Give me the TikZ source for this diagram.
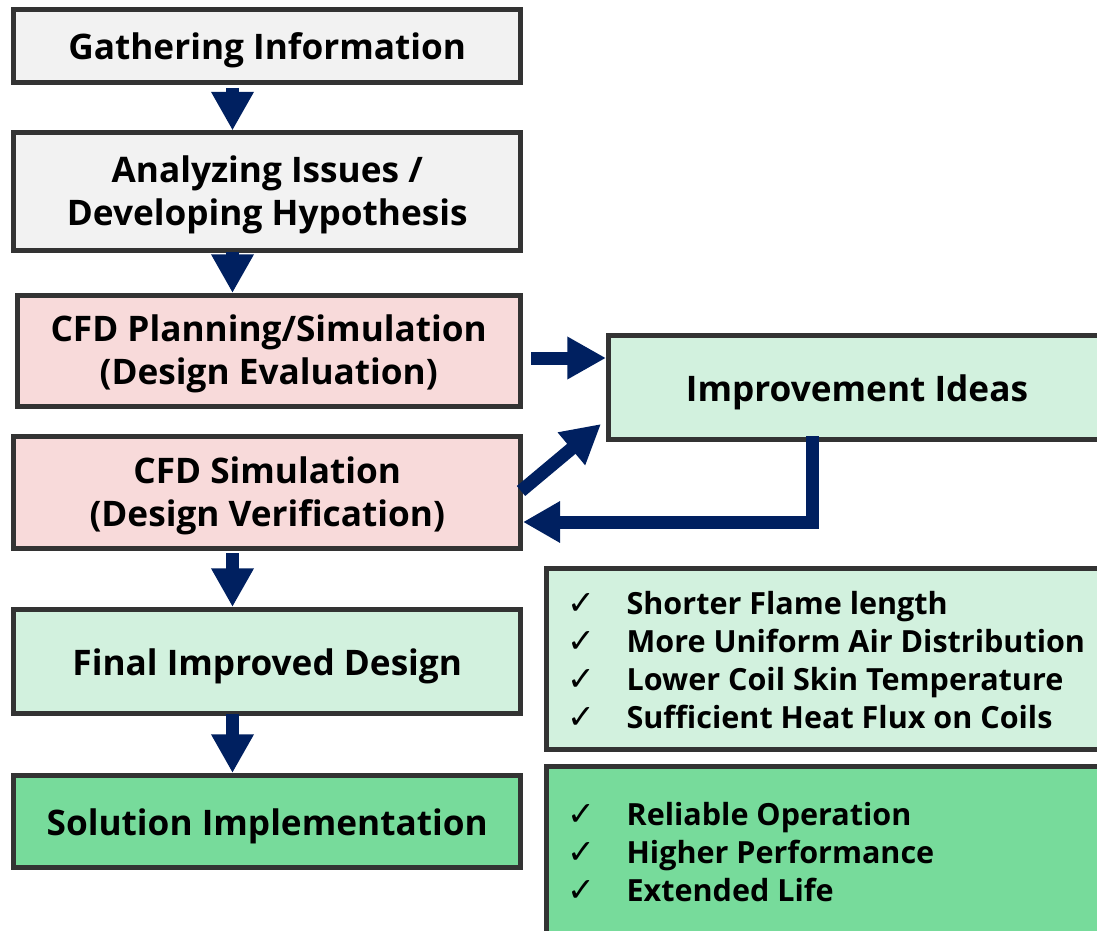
\documentclass[tikz,border=0pt]{standalone}
\usepackage{fontspec}
\setmainfont{Open Sans}
\newfontfamily\symfont{DejaVu Sans}
\usetikzlibrary{arrows.meta,calc}
\definecolor{bordc}{HTML}{333333}
\definecolor{navy}{HTML}{002060}
\definecolor{greyf}{HTML}{F2F2F2}
\definecolor{pinkf}{HTML}{F8DADA}
\definecolor{lgreen}{HTML}{D2F1DE}
\definecolor{dgreen}{HTML}{77DB9B}
\begin{document}
\begin{tikzpicture}[x=0.75pt,y=-0.75pt,
  box/.style={draw=bordc, line width=3.75pt, inner sep=0pt, align=center,
    font=\bfseries\fontsize{26.4}{32.25}\selectfont},
  sline/.style={text height=20.5pt, text depth=0pt},
  dline/.style={text height=50.25pt, text depth=0pt},
  listtxt/.style={inner sep=0pt, align=left, anchor=west,
    font=\bfseries\fontsize{22.9}{28.5}\selectfont},
  barrow/.style={draw=navy, line width=9.75pt, line join=miter,
    -{Triangle[length=29pt,width=30pt]}}]
\useasboundingbox (0,0) rectangle (1097,931);
\clip (0,0) rectangle (1097,931);
\newcommand\ck{\makebox[44.5pt][l]{\symfont\mdseries\fontsize{25}{28.5}\selectfont ✓}}
% left column
\node[box, sline, fill=greyf, minimum width=379.9pt, minimum height=54.75pt] (b1) at (267.25,46) {Gathering Information};
\node[box, dline, fill=greyf, minimum width=379.9pt, minimum height=87.75pt] (b2) at (267.25,191.5) {Analyzing Issues /\\Developing Hypothesis};
\node[box, dline, fill=pinkf, minimum width=377.6pt, minimum height=83.25pt] (b3) at (268.75,351) {CFD Planning/Simulation\\(Design Evaluation)};
\node[box, dline, fill=pinkf, minimum width=379.9pt, minimum height=84pt] (b4) at (267.25,492.5) {CFD Simulation\\(Design Verification)};
\node[box, sline, fill=lgreen, minimum width=379.9pt, minimum height=78pt] (b5) at (267.25,661.5) {Final Improved Design};
\node[box, sline, fill=dgreen, minimum width=379.9pt, minimum height=69pt] (b6) at (267.25,821.5) {Solution Implementation};
% right column
\node[box, sline, fill=lgreen, minimum width=372.75pt, minimum height=78pt] (imp) at (857,387.5) {Improvement Ideas};
\node[box, fill=lgreen, minimum width=424.5pt, minimum height=135.75pt] (r1) at (829.5,659) {};
\node[box, fill=dgreen, minimum width=424.5pt, minimum height=143.25pt] (r2) at (829.5,862) {};
\node[listtxt] (l1) at (567,660) {\ck Shorter Flame length\\\ck More Uniform Air Distribution\\\ck Lower Coil Skin Temperature\\\ck Sufficient Heat Flux on Coils};
\node[listtxt] (l2) at (567,852) {\ck Reliable Operation\\\ck Higher Performance\\\ck Extended Life};
% arrows
\coordinate (a1s) at (232.5,88);
\coordinate (a2s) at (232.5,252);
\coordinate (a3s) at (232.5,553);
\coordinate (a4s) at (232.5,714);
\draw[barrow] (a1s) -- (a1s |- b2.north);
\draw[barrow] (a2s) -- (a2s |- b3.north);
\draw[barrow] (a3s) -- (a3s |- b5.north);
\draw[barrow] (a4s) -- (a4s |- b6.north);
\coordinate (ra) at (531,358);
\draw[barrow] (ra) -- (ra -| imp.west);
\coordinate (da) at (521,491);
\coordinate (dt) at (601,424);
\draw[barrow] (da) -- (dt);
\coordinate (rt) at (812,436);
\coordinate (rl) at (523,522);
\draw[barrow, -{Triangle[length=27.75pt,width=29.25pt]}] (rt) |- (rl);
\end{tikzpicture}
\end{document}
